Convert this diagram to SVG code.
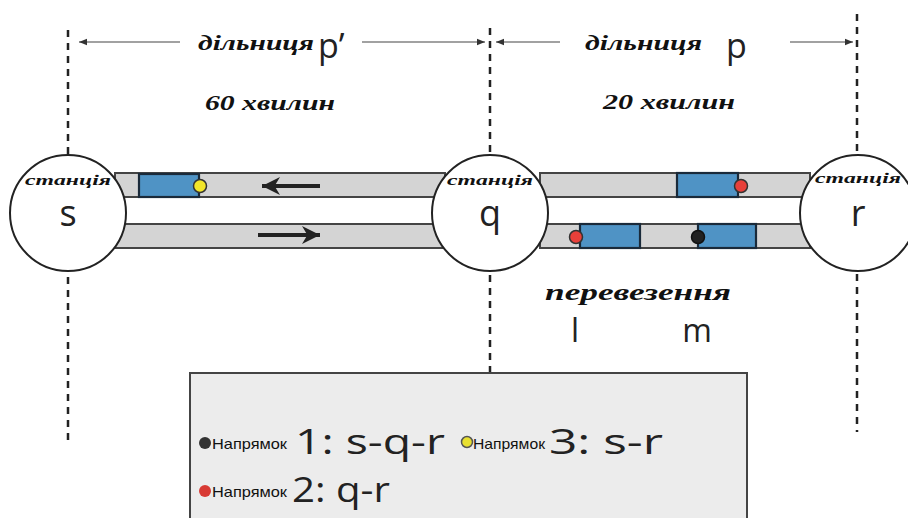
<svg xmlns="http://www.w3.org/2000/svg" width="908" height="518" viewBox="0 0 908 518">
<defs>
<marker id="ah" viewBox="0 0 10 10" refX="10" refY="5" markerWidth="8" markerHeight="8" orient="auto-start-reverse" markerUnits="userSpaceOnUse"><path d="M0,1 L10,5 L0,9 Z" fill="#333"/></marker>
<marker id="bigah" viewBox="0 0 10 10" refX="10" refY="5" markerWidth="24" markerHeight="18" orient="auto" markerUnits="userSpaceOnUse"><path d="M0,0 L10,5 L0,10 L3,5 Z" fill="#222"/></marker>
</defs>
<style>
.dash{stroke:#222;stroke-width:2.5;stroke-dasharray:7,6;fill:none}
.dim{stroke:#444;stroke-width:1.2;fill:none}
.track{fill:#d4d4d4;stroke:#444;stroke-width:2}
.car{fill:#4f93c5;stroke:#1a2a3a;stroke-width:2.2}
.st{fill:#fff;stroke:#222;stroke-width:2}
.script{font-family:"Liberation Serif",serif;font-style:italic;font-weight:bold;fill:#111}
.sans{font-family:"Open Sans","DejaVu Sans",sans-serif;fill:#222}
.leg{font-family:"Liberation Sans",sans-serif;font-size:15px;fill:#111}
</style>
<rect width="908" height="518" fill="#fff"/>
<g id="guides">
<line class="dash" x1="68" y1="30" x2="68" y2="445"/>
<line class="dash" x1="490" y1="28" x2="490" y2="372"/>
<line class="dash" x1="857" y1="14" x2="857" y2="432"/>
</g>
<g id="tracks">
<rect class="track" x="115" y="173" width="330" height="24"/>
<rect class="track" x="115" y="224" width="330" height="24"/>
<rect class="track" x="540" y="173" width="270" height="24"/>
<rect class="track" x="540" y="224" width="270" height="24"/>
</g>
<g id="connectors">
<line class="dim" x1="180" y1="42" x2="79" y2="42" marker-end="url(#ah)"/>
<line class="dim" x1="362" y1="42" x2="485" y2="42" marker-end="url(#ah)"/>
<line class="dim" x1="560" y1="42" x2="496" y2="42" marker-end="url(#ah)"/>
<line class="dim" x1="790" y1="42" x2="853" y2="42" marker-end="url(#ah)"/>
<line x1="320" y1="186" x2="262" y2="186" stroke="#222" stroke-width="4" marker-end="url(#bigah)"/>
<line x1="258" y1="235" x2="320" y2="235" stroke="#222" stroke-width="4" marker-end="url(#bigah)"/>
</g>
<g id="station-s">
<circle class="st" cx="68" cy="213" r="58"/>
<text class="script" x="68" y="185" font-size="14" text-anchor="middle" textLength="86" lengthAdjust="spacingAndGlyphs">станція</text>
<text class="sans" x="68" y="226" font-size="36" text-anchor="middle">s</text>
</g>
<g id="station-q">
<circle class="st" cx="490" cy="213" r="58"/>
<text class="script" x="490" y="185" font-size="14" text-anchor="middle" textLength="86" lengthAdjust="spacingAndGlyphs">станція</text>
<text class="sans" x="490" y="226" font-size="36" text-anchor="middle">q</text>
</g>
<g id="station-r">
<circle class="st" cx="858" cy="213" r="58"/>
<text class="script" x="858" y="183" font-size="14" text-anchor="middle" textLength="86" lengthAdjust="spacingAndGlyphs">станція</text>
<text class="sans" x="858" y="226" font-size="36" text-anchor="middle">r</text>
</g>
<g id="train-3">
<rect class="car" x="139" y="174" width="60" height="23"/>
<circle cx="200" cy="186" r="6.5" fill="#f2e62a" stroke="#333" stroke-width="1.5"/>
</g>
<g id="train-2a">
<rect class="car" x="677" y="173" width="61" height="24"/>
<circle cx="741" cy="186" r="6.5" fill="#e8403a" stroke="#333" stroke-width="1.5"/>
</g>
<g id="train-2b">
<rect class="car" x="580" y="224" width="60" height="24"/>
<circle cx="576" cy="237" r="6.5" fill="#e8403a" stroke="#333" stroke-width="1.5"/>
</g>
<g id="train-1">
<rect class="car" x="698" y="224" width="58" height="24"/>
<circle cx="698" cy="237" r="6.5" fill="#222" stroke="#111" stroke-width="1.5"/>
</g>
<g id="labels">
<text class="script" x="198" y="50" font-size="22" textLength="116" lengthAdjust="spacingAndGlyphs">дільниця</text>
<text class="sans" x="318" y="58" font-size="34">p’</text>
<text class="script" x="585" y="50" font-size="22" textLength="117" lengthAdjust="spacingAndGlyphs">дільниця</text>
<text class="sans" x="726" y="58" font-size="34">p</text>
<text class="script" x="205" y="110" font-size="21" textLength="130" lengthAdjust="spacingAndGlyphs">60 хвилин</text>
<text class="script" x="603" y="109" font-size="21" textLength="132" lengthAdjust="spacingAndGlyphs">20 хвилин</text>
<text class="script" x="545" y="300" font-size="24" textLength="186" lengthAdjust="spacingAndGlyphs">перевезення</text>
<text class="sans" x="575" y="342" font-size="32" text-anchor="middle">l</text>
<text class="sans" x="697" y="342" font-size="32" text-anchor="middle">m</text>
</g>
<g id="legend">
<rect x="190" y="373" width="557" height="150" fill="#ececec" stroke="#444" stroke-width="2"/>
<circle cx="205" cy="443" r="6" fill="#333"/>
<text class="leg" x="212" y="449" textLength="75" lengthAdjust="spacingAndGlyphs">Напрямок</text>
<text class="sans" x="295" y="454" font-size="34" textLength="150" lengthAdjust="spacingAndGlyphs">1: s-q-r</text>
<circle cx="467" cy="442" r="5.5" fill="#e8e030" stroke="#555" stroke-width="1.5"/>
<text class="leg" x="473" y="449" textLength="72" lengthAdjust="spacingAndGlyphs">Напрямок</text>
<text class="sans" x="549" y="454" font-size="34" textLength="114" lengthAdjust="spacingAndGlyphs">3: s-r</text>
<circle cx="205" cy="491" r="6" fill="#d83a34"/>
<text class="leg" x="212" y="497" textLength="75" lengthAdjust="spacingAndGlyphs">Напрямок</text>
<text class="sans" x="292" y="502" font-size="34" textLength="98" lengthAdjust="spacingAndGlyphs">2: q-r</text>
</g>
</svg>
